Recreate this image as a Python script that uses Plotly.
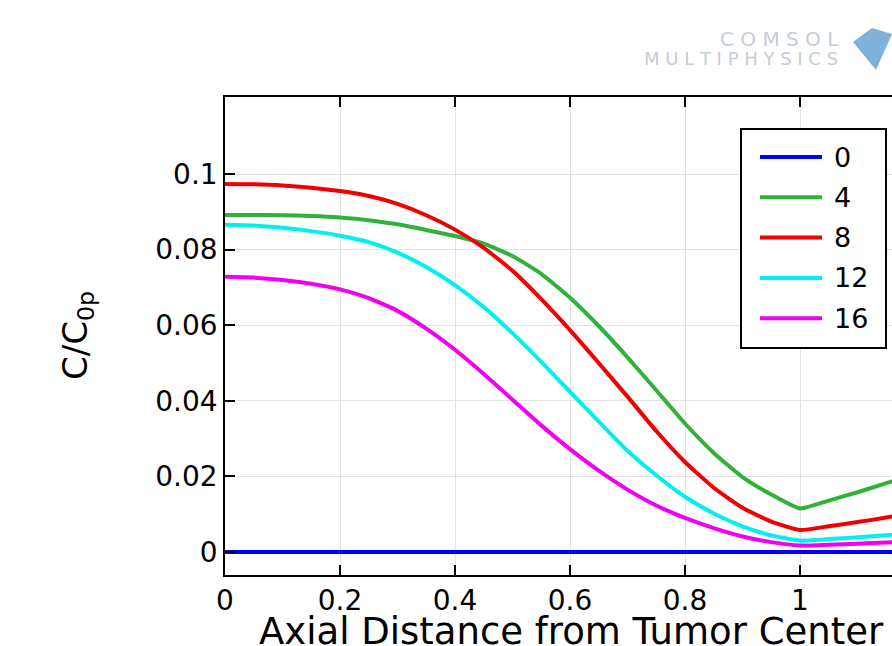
import plotly.graph_objects as go

# ---- data ----
x_vals = [0, 0.05, 0.1, 0.15, 0.2, 0.25, 0.3, 0.35, 0.4, 0.45, 0.5, 0.55, 0.6, 0.65,
          0.7, 0.75, 0.8, 0.85, 0.9, 0.95, 1.0, 1.05, 1.1, 1.15, 1.2]
c_t0 = [0.0] * len(x_vals)
c_t4 = [0.0892, 0.0892, 0.0891, 0.0889, 0.0885, 0.0878, 0.0867, 0.0852, 0.0836, 0.0816,
        0.0783, 0.0736, 0.0673, 0.0598, 0.0515, 0.0428, 0.0340, 0.0262, 0.0198, 0.0152,
        0.0115, 0.0136, 0.0158, 0.0182, 0.0206]
c_t8 = [0.0974, 0.0973, 0.0970, 0.0964, 0.0955, 0.0942, 0.0921, 0.0891, 0.0853, 0.0805,
        0.0744, 0.0669, 0.0587, 0.0500, 0.0411, 0.0320, 0.0238, 0.0170, 0.0117, 0.0080,
        0.0058, 0.0068, 0.0079, 0.0091, 0.0104]
c_t12 = [0.0866, 0.0864, 0.0858, 0.0849, 0.0837, 0.0820, 0.0792, 0.0754, 0.0706, 0.0648,
         0.0579, 0.0503, 0.0424, 0.0345, 0.0268, 0.0203, 0.0146, 0.0102, 0.0068, 0.0044,
         0.0030, 0.0034, 0.0039, 0.0044, 0.0050]
c_t16 = [0.0728, 0.0726, 0.0720, 0.0710, 0.0695, 0.0672, 0.0638, 0.0591, 0.0535, 0.0471,
         0.0403, 0.0335, 0.0272, 0.0215, 0.0165, 0.0123, 0.0090, 0.0063, 0.0041, 0.0026,
         0.0017, 0.0019, 0.0022, 0.0025, 0.0029]
series_names = ["0", "4", "8", "12", "16"]
series_colors = ["#0000ff", "#2fb13a", "#f00000", "#00f0f0", "#f000f0"]
series_values = [c_t0, c_t4, c_t8, c_t12, c_t16]

x_ticks = [0, 0.2, 0.4, 0.6, 0.8, 1]
x_ticktext = ["0", "0.2", "0.4", "0.6", "0.8", "1"]
y_ticks = [0, 0.02, 0.04, 0.06, 0.08, 0.1]
y_ticktext = ["0", "0.02", "0.04", "0.06", "0.08", "0.1"]

FONT = "DejaVu Sans"
W, H = 892, 646
L, R, T, B = 225, 0, 97, 71
PW, PH = W - L - R, H - T - B


def px(xp):
    return (xp - L) / PW


def py(yp):
    return (H - B - yp) / PH


fig = go.Figure()
for name, color, vals in zip(series_names, series_colors, series_values):
    fig.add_trace(go.Scatter(
        x=x_vals, y=vals, name=name, mode="lines",
        line=dict(color=color, width=4, shape="spline", smoothing=0.5),
    ))

fig.update_layout(
    width=W, height=H,
    margin=dict(l=L, r=R, t=T, b=B),
    paper_bgcolor="white", plot_bgcolor="white",
    font=dict(family=FONT, size=28, color="black"),
    showlegend=False,
    xaxis=dict(
        range=[0, 1.16], tickvals=x_ticks, ticktext=x_ticktext,
        showgrid=True, gridcolor="#e2e2e2", gridwidth=1,
        showline=True, linecolor="black", linewidth=1.5, mirror="ticks",
        ticks="inside", ticklen=10, tickwidth=1.5, tickcolor="black",
        zeroline=False, tickfont=dict(size=28),
    ),
    yaxis=dict(
        range=[-0.0061, 0.1204], tickvals=y_ticks, ticktext=y_ticktext,
        showgrid=True, gridcolor="#e2e2e2", gridwidth=1,
        showline=True, linecolor="black", linewidth=1.5, mirror=False,
        ticks="inside", ticklen=10, tickwidth=1.5, tickcolor="black",
        zeroline=False, tickfont=dict(size=28),
    ),
)

# axis titles
fig.add_annotation(xref="paper", yref="paper", x=px(571), y=py(631),
                   text="Axial Distance from Tumor Center", showarrow=False,
                   xanchor="center", yanchor="middle",
                   font=dict(family=FONT, size=37, color="black"))
fig.add_annotation(xref="paper", yref="paper", x=px(77), y=py(336),
                   text="C/C<sub>0p</sub>", showarrow=False, textangle=-90,
                   xanchor="center", yanchor="middle",
                   font=dict(family=FONT, size=34, color="black"))

# legend box (drawn from the series lists)
fig.add_shape(type="rect", xref="paper", yref="paper",
              x0=px(741), x1=px(886), y0=py(348), y1=py(129),
              fillcolor="white", line=dict(color="black", width=2), layer="above")
for i, (name, color) in enumerate(zip(series_names, series_colors)):
    yy = 157 + i * 40.3
    fig.add_shape(type="line", xref="paper", yref="paper",
                  x0=px(760), x1=px(822), y0=py(yy), y1=py(yy),
                  line=dict(color=color, width=4), layer="above")
    fig.add_annotation(xref="paper", yref="paper", x=px(832), y=py(yy),
                       text=name, showarrow=False, xanchor="left", yanchor="middle",
                       font=dict(family=FONT, size=27, color="black"))

# faint COMSOL logo (top right)
fig.add_annotation(xref="paper", yref="paper", x=px(779), y=py(39),
                   text="C O M S O L", showarrow=False, xanchor="center", yanchor="middle",
                   font=dict(family=FONT, size=20, color="#c4cdd6"))
fig.add_annotation(xref="paper", yref="paper", x=px(741), y=py(59),
                   text="M U L T I P H Y S I C S", showarrow=False, xanchor="center",
                   yanchor="middle", font=dict(family=FONT, size=18, color="#c4cdd6"))
fig.add_shape(type="path", xref="paper", yref="paper",
              path="M {0},{1} L {2},{3} L {4},{5} L {6},{7} Z".format(
                  px(853), py(42), px(872), py(28), px(892), py(34), px(876), py(70)),
              fillcolor="#7fb2da", line=dict(width=0), layer="above")

fig.write_html("out.html")
